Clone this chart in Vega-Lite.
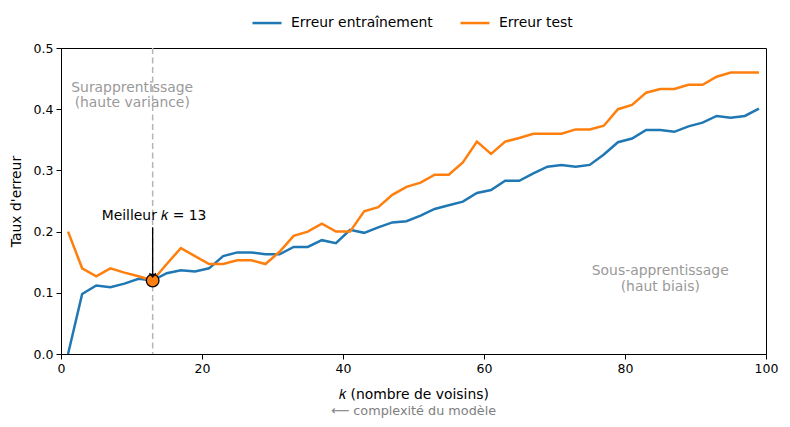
{
  "$schema": "https://vega.github.io/schema/vega-lite/v6.json",
  "width": 705,
  "height": 306,
  "autosize": {"type": "none"},
  "padding": {"left": 61, "top": 48, "right": 24, "bottom": 73},
  "background": "white",
  "title": {"text": "⟵ complexité du modèle", "orient": "bottom", "anchor": "middle", "fontSize": 12.8, "fontWeight": "normal", "color": "#808080", "offset": 4},
  "config": {
    "font": "DejaVu Sans",
    "view": {"stroke": "black", "strokeWidth": 1},
    "axis": {"grid": false, "domainColor": "black", "tickColor": "black", "labelColor": "black", "titleColor": "black", "labelFontSize": 12.5, "titleFontSize": 13.9, "titleFontWeight": "normal", "tickSize": 5, "labelPadding": 3, "labelFlush": false}
  },
  "layer": [
    {
      "data": {"values": [{}]},
      "mark": {"type": "rule", "color": "#b5b5b5", "strokeWidth": 1.5, "strokeDash": [6, 3.5]},
      "encoding": {"x": {"datum": 13, "type": "quantitative"}}
    },
    {
      "data": {"values": [
        {"k":1,"serie":"Erreur entraînement","err":0.0},{"k":3,"serie":"Erreur entraînement","err":0.098},{"k":5,"serie":"Erreur entraînement","err":0.112},{"k":7,"serie":"Erreur entraînement","err":0.109},{"k":9,"serie":"Erreur entraînement","err":0.115},{"k":11,"serie":"Erreur entraînement","err":0.123},{"k":13,"serie":"Erreur entraînement","err":0.12},{"k":15,"serie":"Erreur entraînement","err":0.132},{"k":17,"serie":"Erreur entraînement","err":0.137},{"k":19,"serie":"Erreur entraînement","err":0.135},{"k":21,"serie":"Erreur entraînement","err":0.14},{"k":23,"serie":"Erreur entraînement","err":0.16},{"k":25,"serie":"Erreur entraînement","err":0.166},{"k":27,"serie":"Erreur entraînement","err":0.166},{"k":29,"serie":"Erreur entraînement","err":0.163},{"k":31,"serie":"Erreur entraînement","err":0.163},{"k":33,"serie":"Erreur entraînement","err":0.175},{"k":35,"serie":"Erreur entraînement","err":0.175},{"k":37,"serie":"Erreur entraînement","err":0.186},{"k":39,"serie":"Erreur entraînement","err":0.181},{"k":41,"serie":"Erreur entraînement","err":0.203},{"k":43,"serie":"Erreur entraînement","err":0.198},{"k":45,"serie":"Erreur entraînement","err":0.207},{"k":47,"serie":"Erreur entraînement","err":0.215},{"k":49,"serie":"Erreur entraînement","err":0.217},{"k":51,"serie":"Erreur entraînement","err":0.226},{"k":53,"serie":"Erreur entraînement","err":0.237},{"k":55,"serie":"Erreur entraînement","err":0.243},{"k":57,"serie":"Erreur entraînement","err":0.249},{"k":59,"serie":"Erreur entraînement","err":0.263},{"k":61,"serie":"Erreur entraînement","err":0.268},{"k":63,"serie":"Erreur entraînement","err":0.283},{"k":65,"serie":"Erreur entraînement","err":0.283},{"k":67,"serie":"Erreur entraînement","err":0.295},{"k":69,"serie":"Erreur entraînement","err":0.306},{"k":71,"serie":"Erreur entraînement","err":0.309},{"k":73,"serie":"Erreur entraînement","err":0.306},{"k":75,"serie":"Erreur entraînement","err":0.309},{"k":77,"serie":"Erreur entraînement","err":0.326},{"k":79,"serie":"Erreur entraînement","err":0.346},{"k":81,"serie":"Erreur entraînement","err":0.352},{"k":83,"serie":"Erreur entraînement","err":0.366},{"k":85,"serie":"Erreur entraînement","err":0.366},{"k":87,"serie":"Erreur entraînement","err":0.363},{"k":89,"serie":"Erreur entraînement","err":0.372},{"k":91,"serie":"Erreur entraînement","err":0.378},{"k":93,"serie":"Erreur entraînement","err":0.389},{"k":95,"serie":"Erreur entraînement","err":0.386},{"k":97,"serie":"Erreur entraînement","err":0.389},{"k":99,"serie":"Erreur entraînement","err":0.401},
        {"k":1,"serie":"Erreur test","err":0.2},{"k":3,"serie":"Erreur test","err":0.14},{"k":5,"serie":"Erreur test","err":0.127},{"k":7,"serie":"Erreur test","err":0.14},{"k":9,"serie":"Erreur test","err":0.133},{"k":11,"serie":"Erreur test","err":0.127},{"k":13,"serie":"Erreur test","err":0.12},{"k":15,"serie":"Erreur test","err":0.147},{"k":17,"serie":"Erreur test","err":0.173},{"k":19,"serie":"Erreur test","err":0.16},{"k":21,"serie":"Erreur test","err":0.147},{"k":23,"serie":"Erreur test","err":0.147},{"k":25,"serie":"Erreur test","err":0.153},{"k":27,"serie":"Erreur test","err":0.153},{"k":29,"serie":"Erreur test","err":0.147},{"k":31,"serie":"Erreur test","err":0.167},{"k":33,"serie":"Erreur test","err":0.193},{"k":35,"serie":"Erreur test","err":0.2},{"k":37,"serie":"Erreur test","err":0.213},{"k":39,"serie":"Erreur test","err":0.2},{"k":41,"serie":"Erreur test","err":0.2},{"k":43,"serie":"Erreur test","err":0.233},{"k":45,"serie":"Erreur test","err":0.24},{"k":47,"serie":"Erreur test","err":0.26},{"k":49,"serie":"Erreur test","err":0.273},{"k":51,"serie":"Erreur test","err":0.28},{"k":53,"serie":"Erreur test","err":0.293},{"k":55,"serie":"Erreur test","err":0.293},{"k":57,"serie":"Erreur test","err":0.313},{"k":59,"serie":"Erreur test","err":0.347},{"k":61,"serie":"Erreur test","err":0.327},{"k":63,"serie":"Erreur test","err":0.347},{"k":65,"serie":"Erreur test","err":0.353},{"k":67,"serie":"Erreur test","err":0.36},{"k":69,"serie":"Erreur test","err":0.36},{"k":71,"serie":"Erreur test","err":0.36},{"k":73,"serie":"Erreur test","err":0.367},{"k":75,"serie":"Erreur test","err":0.367},{"k":77,"serie":"Erreur test","err":0.373},{"k":79,"serie":"Erreur test","err":0.4},{"k":81,"serie":"Erreur test","err":0.407},{"k":83,"serie":"Erreur test","err":0.427},{"k":85,"serie":"Erreur test","err":0.433},{"k":87,"serie":"Erreur test","err":0.433},{"k":89,"serie":"Erreur test","err":0.44},{"k":91,"serie":"Erreur test","err":0.44},{"k":93,"serie":"Erreur test","err":0.453},{"k":95,"serie":"Erreur test","err":0.46},{"k":97,"serie":"Erreur test","err":0.46},{"k":99,"serie":"Erreur test","err":0.46}
      ]},
      "layer": [
        {
          "mark": {"type": "line", "strokeWidth": 2.5},
          "encoding": {
            "x": {"field": "k", "type": "quantitative", "scale": {"domain": [0, 100], "nice": false, "zero": false}, "axis": {"title": "𝑘 (nombre de voisins)", "values": [0, 20, 40, 60, 80, 100], "format": "d", "titlePadding": 13}},
            "y": {"field": "err", "type": "quantitative", "scale": {"domain": [0, 0.5], "nice": false}, "axis": {"title": "Taux d'erreur", "values": [0, 0.1, 0.2, 0.3, 0.4, 0.5], "format": ".1f", "titlePadding": 10}},
            "color": {"field": "serie", "type": "nominal", "scale": {"domain": ["Erreur entraînement", "Erreur test"], "range": ["#1f77b4", "#ff7f0e"]}, "legend": {"title": null, "orient": "none", "direction": "horizontal", "legendX": 190, "legendY": -41, "symbolType": "stroke", "symbolStrokeWidth": 2.5, "symbolSize": 841, "labelFontSize": 13.9, "labelColor": "black", "labelOffset": 8, "columnPadding": 22, "padding": 0}}
          }
        },
        {
          "transform": [{"filter": "datum.serie === 'Erreur test' && datum.k === 13"}],
          "mark": {"type": "point", "shape": "circle", "filled": true, "fill": "#ff7f0e", "stroke": "black", "strokeWidth": 1.3, "size": 160, "opacity": 1},
          "encoding": {"x": {"field": "k", "type": "quantitative"}, "y": {"field": "err", "type": "quantitative"}}
        }
      ]
    },
    {
      "data": {"values": [{}]},
      "mark": {"type": "rule", "color": "black", "strokeWidth": 1.3},
      "encoding": {"x": {"datum": 13, "type": "quantitative"}, "y": {"datum": 0.207, "type": "quantitative"}, "y2": {"datum": 0.128}}
    },
    {
      "data": {"values": [{}]},
      "mark": {"type": "point", "shape": "M-1,-1.2L0,0L1,-1.2", "filled": false, "stroke": "black", "strokeWidth": 1.3, "size": 40, "opacity": 1},
      "encoding": {"x": {"datum": 13, "type": "quantitative"}, "y": {"datum": 0.126, "type": "quantitative"}}
    },
    {
      "data": {"values": [{}]},
      "mark": {"type": "text", "text": "Meilleur 𝑘 = 13", "fontSize": 13.9, "align": "center", "baseline": "middle", "color": "black"},
      "encoding": {"x": {"datum": 13.2, "type": "quantitative"}, "y": {"datum": 0.226, "type": "quantitative"}}
    },
    {
      "data": {"values": [{}]},
      "mark": {"type": "text", "text": ["Surapprentissage", "(haute variance)"], "fontSize": 13.9, "align": "center", "baseline": "middle", "lineHeight": 15.5, "color": "#999999"},
      "encoding": {"x": {"datum": 10.1, "type": "quantitative"}, "y": {"datum": 0.435, "type": "quantitative"}}
    },
    {
      "data": {"values": [{}]},
      "mark": {"type": "text", "text": ["Sous-apprentissage", "(haut biais)"], "fontSize": 13.9, "align": "center", "baseline": "middle", "lineHeight": 15.5, "color": "#999999"},
      "encoding": {"x": {"datum": 85, "type": "quantitative"}, "y": {"datum": 0.135, "type": "quantitative"}}
    }
  ]
}
